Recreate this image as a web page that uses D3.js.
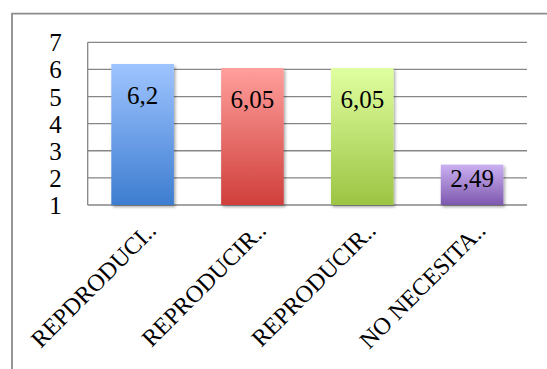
<!DOCTYPE html>
<html>
<head>
<meta charset="utf-8">
<script src="https://cdn.jsdelivr.net/npm/d3@7"></script>
<style>
  html, body { margin: 0; padding: 0; background: #ffffff; }
  svg { display: block; }
</style>
</head>
<body>
<svg id="chart" width="547" height="369"></svg>
<script>
// Category labels (truncated as shown on the axis)
const categories = ["REPDRODUCI..", "REPRODUCIR..", "REPRODUCIR..", "NO NECESITA.."];
// Mean scores per category
const values = [6.2, 6.05, 6.05, 2.49];
// Value labels as printed on the bars
const valueLabels = ["6,2", "6,05", "6,05", "2,49"];
// Y axis ticks
const yTicks = [1, 2, 3, 4, 5, 6, 7];
// Bar gradient stops: [top, bottom]
const barColors = [
  ["#9fc4ff", "#3d7dd0"],
  ["#ff9f9c", "#cf3f3b"],
  ["#e0ffa0", "#9cc443"],
  ["#cbb0f2", "#7d58ae"]
];

const svg = d3.select("#chart");
const W = 547, H = 369;
const plot = { left: 87.7, right: 527, top: 42.3, bottom: 205 };
const serif = "'Liberation Serif', 'Times New Roman', serif";

// Outer chart frame (right and bottom edges fall outside the view)
svg.append("path")
  .attr("d", `M12,${H + 5} L12,13.7 L${W + 5},13.7`)
  .attr("fill", "none")
  .attr("stroke", "#8c8c8c")
  .attr("stroke-width", 1.8);

const x = d3.scaleBand()
  .domain(d3.range(categories.length))
  .range([plot.left, plot.right])
  .paddingInner(0.43)
  .paddingOuter(0.215);

const y = d3.scaleLinear()
  .domain([1, 7])
  .range([plot.bottom, plot.top]);

const defs = svg.append("defs");
barColors.forEach((c, i) => {
  const g = defs.append("linearGradient")
    .attr("id", "grad" + i)
    .attr("x1", 0).attr("y1", 0).attr("x2", 0).attr("y2", 1);
  g.append("stop").attr("offset", "0%").attr("stop-color", c[0]);
  g.append("stop").attr("offset", "100%").attr("stop-color", c[1]);
});
const shadow = defs.append("filter")
  .attr("id", "shadow")
  .attr("x", "-20%").attr("y", "-20%")
  .attr("width", "140%").attr("height", "140%");
shadow.append("feDropShadow")
  .attr("dx", 1.5).attr("dy", 2)
  .attr("stdDeviation", 1.6)
  .attr("flood-color", "#000")
  .attr("flood-opacity", 0.35);

// Horizontal gridlines
svg.append("g")
  .selectAll("line")
  .data(yTicks)
  .join("line")
  .attr("x1", plot.left)
  .attr("x2", plot.right)
  .attr("y1", d => y(d))
  .attr("y2", d => y(d))
  .attr("stroke", "#868686")
  .attr("stroke-width", 1.3);

// Left axis line
svg.append("line")
  .attr("x1", plot.left).attr("x2", plot.left)
  .attr("y1", y(7)).attr("y2", y(1))
  .attr("stroke", "#868686")
  .attr("stroke-width", 1.3);

// Y axis tick labels
const yAxis = svg.append("g")
  .attr("transform", `translate(${plot.left},0)`)
  .call(d3.axisLeft(y).tickValues(yTicks).tickSize(0).tickPadding(26).tickFormat(d3.format("d")));
yAxis.select(".domain").remove();
yAxis.selectAll("text")
  .style("font-family", serif)
  .style("font-size", "25px")
  .attr("fill", "#000")
  .attr("dy", "0.34em");

// Bars
svg.append("g")
  .selectAll("rect")
  .data(values)
  .join("rect")
  .attr("x", (d, i) => x(i))
  .attr("width", x.bandwidth())
  .attr("y", d => y(d))
  .attr("height", d => y(1) - y(d))
  .attr("fill", (d, i) => `url(#grad${i})`)
  .attr("filter", "url(#shadow)");

// Value labels inside the bars, near the top
svg.append("g")
  .selectAll("text")
  .data(values)
  .join("text")
  .attr("x", (d, i) => x(i) + x.bandwidth() / 2)
  .attr("y", d => y(d) + Math.min(31, (y(1) - y(d)) * 0.33))
  .attr("dy", "0.35em")
  .attr("text-anchor", "middle")
  .style("font-family", serif)
  .style("font-size", "25px")
  .attr("fill", "#000")
  .text((d, i) => valueLabels[i]);

// Category axis with rotated labels
const xAxis = svg.append("g")
  .attr("transform", `translate(0,${plot.bottom})`)
  .call(d3.axisBottom(x).tickSize(0).tickFormat(i => categories[i]));
xAxis.select(".domain").remove();
xAxis.selectAll("text")
  .style("font-family", serif)
  .style("font-size", "24px")
  .attr("fill", "#000")
  .attr("text-anchor", "end")
  .attr("y", 0)
  .attr("dy", 0)
  .attr("transform", "translate(15,27) rotate(-45)");
</script>
</body>
</html>
